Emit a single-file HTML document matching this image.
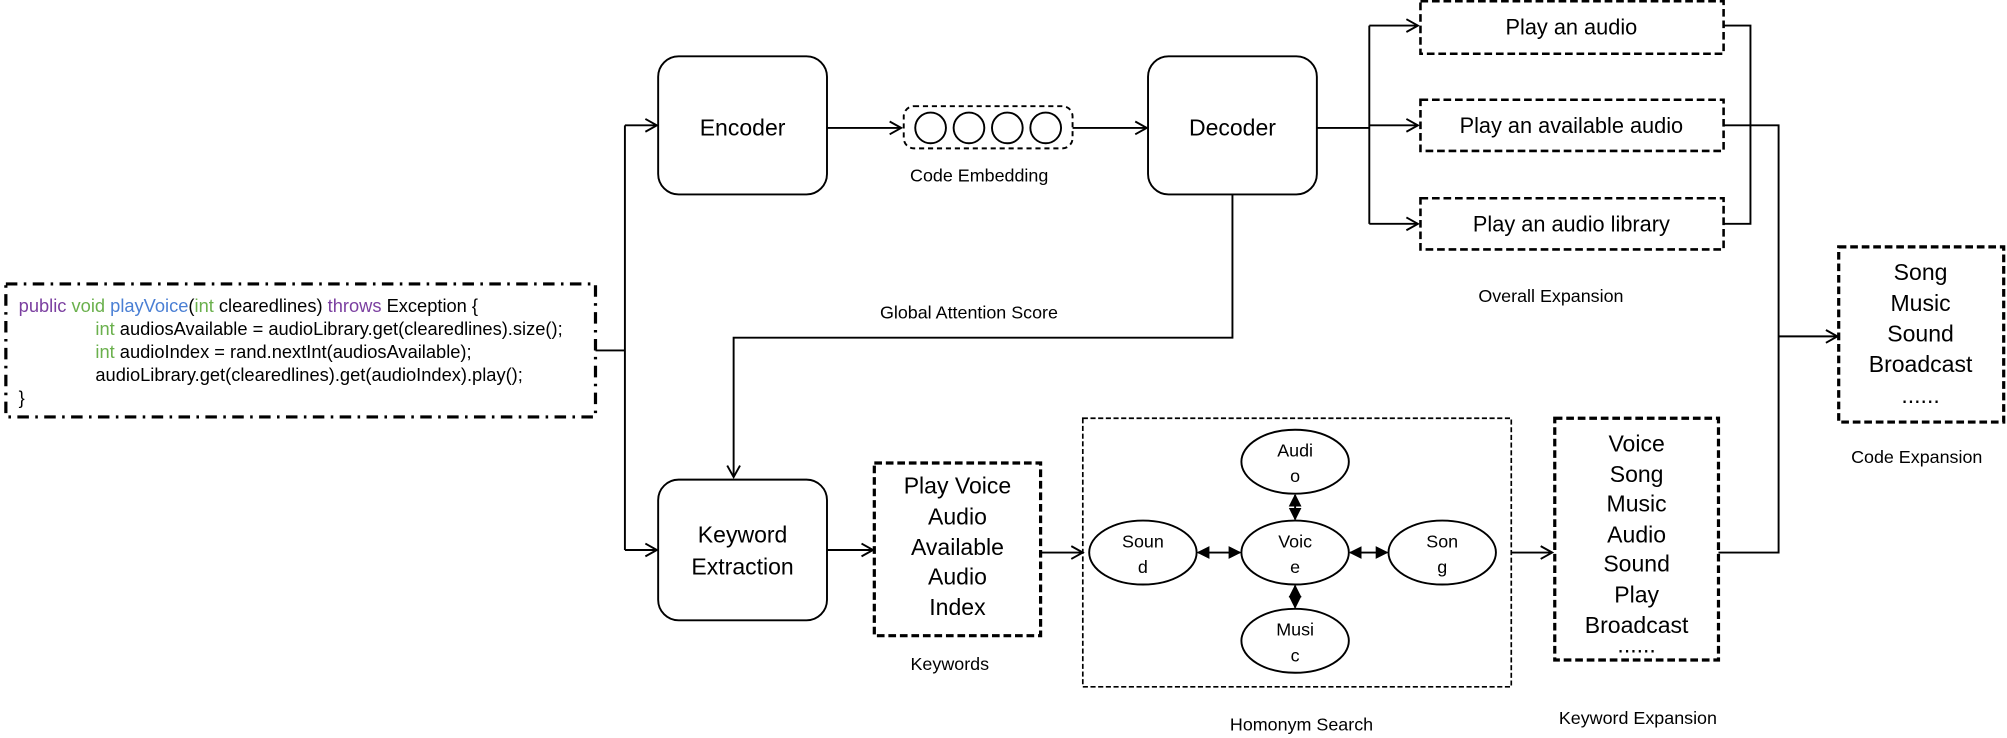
<!DOCTYPE html>
<html><head><meta charset="utf-8"><style>html,body{margin:0;padding:0;background:#fff}svg{display:block}text{font-family:"Liberation Sans",Arial,sans-serif;fill:#000}</style></head><body>
<svg width="2007" height="738" viewBox="0 0 1568 577" xmlns="http://www.w3.org/2000/svg">
<defs>
<marker id="a" markerWidth="12" markerHeight="12" refX="10" refY="6" orient="auto" markerUnits="userSpaceOnUse"><path d="M1,1 L10,6 L1,11" fill="none" stroke="#000" stroke-width="1.5"/></marker>
<marker id="f" markerWidth="10" markerHeight="10" refX="9" refY="5" orient="auto-start-reverse" markerUnits="userSpaceOnUse"><path d="M0,0 L10,5 L0,10 Z" fill="#000"/></marker>
</defs>
<g stroke="#000" fill="none" stroke-width="1.5">
<rect x="4" y="222" width="461" height="104" stroke-width="2.5" stroke-dasharray="9,5,2,5"/>
<path d="M465,274 H488 M488,98 V430"/>
<path d="M488,98 H513" marker-end="url(#a)"/>
<path d="M488,430 H513" marker-end="url(#a)"/>
<rect x="514" y="44" width="132" height="108" rx="16"/>
<path d="M646,100 H704" marker-end="url(#a)"/>
<rect x="706" y="83" width="132" height="33" rx="8" stroke-dasharray="4,3"/>
<circle cx="727" cy="100" r="12"/><circle cx="757" cy="100" r="12"/><circle cx="787" cy="100" r="12"/><circle cx="817" cy="100" r="12"/>
<path d="M838,100 H896" marker-end="url(#a)"/>
<rect x="897" y="44" width="132" height="108" rx="16"/>
<path d="M1029,100 H1070 M1070,20 V175"/>
<path d="M1070,20 H1108" marker-end="url(#a)"/>
<path d="M1070,98 H1108" marker-end="url(#a)"/>
<path d="M1070,175 H1108" marker-end="url(#a)"/>
<rect x="1110" y="1" width="237" height="41" stroke-width="2" stroke-dasharray="6,3"/>
<rect x="1110" y="78" width="237" height="40" stroke-width="2" stroke-dasharray="6,3"/>
<rect x="1110" y="155" width="237" height="40" stroke-width="2" stroke-dasharray="6,3"/>
<path d="M1347,20 H1368 V175 H1347"/>
<path d="M1347,98 H1390 V432 H1343"/>
<path d="M1390,263 H1436" marker-end="url(#a)"/>
<rect x="1437" y="193" width="129" height="137" stroke-width="2.5" stroke-dasharray="6,3"/>
<path d="M963,152 V264 H573 V373" marker-end="url(#a)"/>
<rect x="514" y="375" width="132" height="110" rx="16"/>
<path d="M646,430 H682" marker-end="url(#a)"/>
<rect x="683" y="362" width="130" height="135" stroke-width="2.5" stroke-dasharray="6,3"/>
<path d="M813,432 H846" marker-end="url(#a)"/>
<rect x="846" y="327" width="335" height="210" stroke-width="1.3" stroke-dasharray="4,2"/>
<ellipse cx="1012" cy="361" rx="42" ry="25"/>
<ellipse cx="1012" cy="432" rx="42" ry="25"/>
<ellipse cx="893" cy="432" rx="42" ry="25"/>
<ellipse cx="1127" cy="432" rx="42" ry="25"/>
<ellipse cx="1012" cy="501" rx="42" ry="25"/>
<path d="M1012,387 V406" marker-start="url(#f)" marker-end="url(#f)"/>
<path d="M1012,458 V475" marker-start="url(#f)" marker-end="url(#f)"/>
<path d="M936,432 H969" marker-start="url(#f)" marker-end="url(#f)"/>
<path d="M1055,432 H1084" marker-start="url(#f)" marker-end="url(#f)"/>
<path d="M1181,432 H1213" marker-end="url(#a)"/>
<rect x="1215" y="327" width="128" height="189" stroke-width="2.5" stroke-dasharray="6,3"/>
</g>
<g font-size="14.3">
<text x="14" y="244"><tspan fill="#7b3fa0">public</tspan> <tspan fill="#6ab04c">void</tspan> <tspan fill="#4a7fd4">playVoice</tspan>(<tspan fill="#6ab04c">int</tspan> clearedlines) <tspan fill="#7b3fa0">throws</tspan> Exception {</text>
<text x="74" y="262"><tspan fill="#6ab04c">int</tspan> audiosAvailable = audioLibrary.get(clearedlines).size();</text>
<text x="74" y="280"><tspan fill="#6ab04c">int</tspan> audioIndex = rand.nextInt(audiosAvailable);</text>
<text x="74" y="298">audioLibrary.get(clearedlines).get(audioIndex).play();</text>
<text x="14" y="316">}</text>
</g>
<g font-size="18" text-anchor="middle">
<text x="580" y="106">Encoder</text>
<text x="963" y="106">Decoder</text>
<text x="580" y="424">Keyword</text>
<text x="580" y="449">Extraction</text>
<text x="1228" y="27" font-size="17">Play an audio</text>
<text x="1228" y="104" font-size="17">Play an available audio</text>
<text x="1228" y="181" font-size="17">Play an audio library</text>
<text x="1501" y="219">Song</text><text x="1501" y="243">Music</text><text x="1501" y="267">Sound</text><text x="1501" y="291">Broadcast</text><text x="1501" y="315">......</text>
<text x="748" y="386">Play Voice</text><text x="748" y="410">Audio</text><text x="748" y="434">Available</text><text x="748" y="457">Audio</text><text x="748" y="481">Index</text>
<text x="1279" y="353">Voice</text><text x="1279" y="377">Song</text><text x="1279" y="400">Music</text><text x="1279" y="424">Audio</text><text x="1279" y="447">Sound</text><text x="1279" y="471">Play</text><text x="1279" y="495">Broadcast</text><text x="1279" y="510">......</text>
</g>
<g font-size="14" text-anchor="middle">
<text x="1012" y="357">Audi</text><text x="1012" y="377">o</text>
<text x="1012" y="428">Voic</text><text x="1012" y="448">e</text>
<text x="893" y="428">Soun</text><text x="893" y="448">d</text>
<text x="1127" y="428">Son</text><text x="1127" y="448">g</text>
<text x="1012" y="497">Musi</text><text x="1012" y="517">c</text>
<text x="765" y="142">Code Embedding</text>
<text x="757" y="249">Global Attention Score</text>
<text x="1212" y="236">Overall Expansion</text>
<text x="1498" y="362">Code Expansion</text>
<text x="742" y="524">Keywords</text>
<text x="1017" y="571">Homonym Search</text>
<text x="1280" y="566">Keyword Expansion</text>
</g>
</svg>
</body></html>
